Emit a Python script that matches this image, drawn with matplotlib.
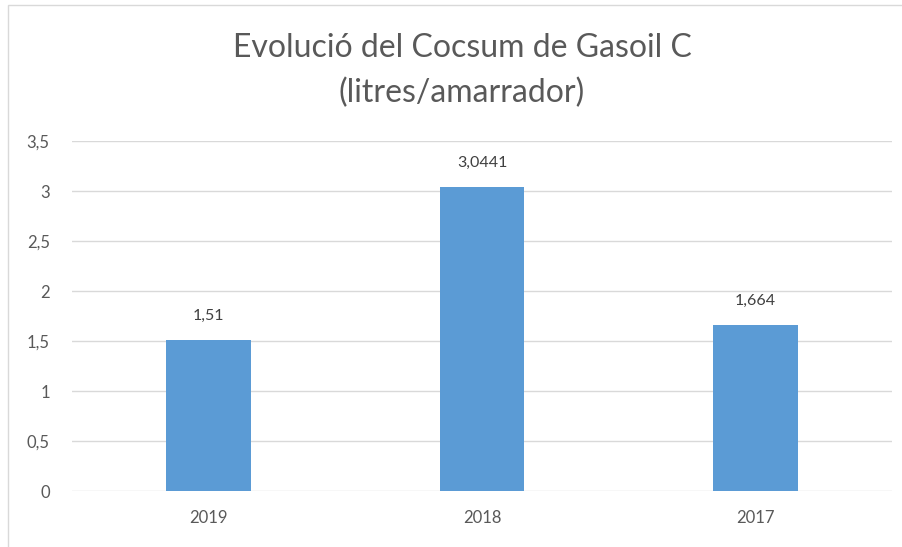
import matplotlib.pyplot as plt
import matplotlib.patches as mp

plt.rcParams['font.family'] = ['Lato', 'DejaVu Sans']

years = ['2019', '2018', '2017']
values = [1.51, 3.0441, 1.664]
labels = ['1,51', '3,0441', '1,664']
yticks = [0, 0.5, 1, 1.5, 2, 2.5, 3, 3.5]
yticklabels = ['0', '0,5', '1', '1,5', '2', '2,5', '3', '3,5']

W, H = 903, 547
fig = plt.figure(figsize=(W / 100, H / 100), dpi=100)
fig.patch.set_facecolor('white')

# outer chart border
fig.patches.append(mp.Rectangle((8 / W, -0.1), 1.2, 1 - 5 / H + 0.1,
                                transform=fig.transFigure, fill=False,
                                edgecolor='#D9D9D9', linewidth=1))

ax = fig.add_axes([72 / W, 1 - 491 / H, (892 - 72) / W, (491 - 141) / H])
x = range(len(years))
ax.bar(x, values, width=0.31, color='#5B9BD5', zorder=3)
ax.set_xlim(-0.5, 2.5)
ax.set_ylim(0, 3.5)
ax.set_yticks(yticks)
ax.set_yticklabels(yticklabels)
ax.set_xticks(list(x))
ax.set_xticklabels(years)
ax.yaxis.grid(True, color='#D9D9D9', linewidth=1, zorder=0)
for s in ax.spines.values():
    s.set_visible(False)
ax.tick_params(length=0, colors='#595959', labelsize=12)
ax.tick_params(axis='y', pad=16)
ax.tick_params(axis='x', pad=14)

for xi, v, lab in zip(x, values, labels):
    ax.annotate(lab, (xi, v), xytext=(0, 17), textcoords='offset points',
                ha='center', va='center', fontsize=11.5, color='#404040')

fig.text(462 / W, 1 - 48 / H, 'Evolució del Cocsum de Gasoil C',
         ha='center', va='center', fontsize=23, color='#595959')
fig.text(462 / W, 1 - 93 / H, '(litres/amarrador)',
         ha='center', va='center', fontsize=23, color='#595959')

fig.savefig('out.png', dpi=100)
